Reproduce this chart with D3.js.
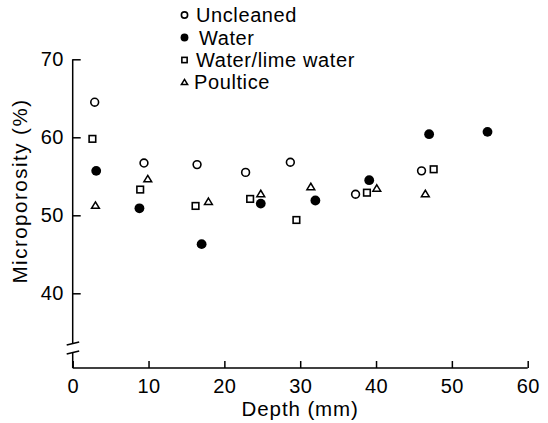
<!DOCTYPE html>
<html>
<head>
<meta charset="utf-8">
<script src="https://cdn.jsdelivr.net/npm/d3@7"></script>
<style>
  html, body { margin: 0; padding: 0; background: #fff; }
  svg { display: block; }
  text { font-family: "Liberation Sans", Arial, Helvetica, sans-serif; fill: #000; }
</style>
</head>
<body>
<svg id="chart" width="548" height="423"></svg>
<script>
// Microporosity against depth for four cleaning treatments
const xTicks = [0, 10, 20, 30, 40, 50, 60];
const yTicks = [40, 50, 60, 70];

const uncleanedDepth = [2.9, 9.4, 16.4, 22.8, 28.7, 37.3, 46.0];
const uncleanedValue = [64.5, 56.7, 56.5, 55.5, 56.8, 52.7, 55.7];

const waterDepth = [3.1, 8.8, 17.0, 24.8, 32.0, 39.1, 47.0, 54.7];
const waterValue = [55.7, 50.9, 46.3, 51.5, 51.9, 54.5, 60.4, 60.7];

const limeDepth = [2.6, 8.9, 16.2, 23.4, 29.5, 38.8, 47.6];
const limeValue = [59.8, 53.3, 51.2, 52.1, 49.4, 52.9, 55.9];

const poulticeDepth = [3.0, 9.9, 17.9, 24.8, 31.4, 40.1, 46.5];
const poulticeValue = [51.3, 54.7, 51.8, 52.8, 53.7, 53.5, 52.8];

const seriesNames = ["Uncleaned", "Water", "Water/lime water", "Poultice"];
const seriesShapes = ["openCircle", "filledCircle", "openSquare", "openTriangle"];

const series = [
  { name: seriesNames[0], shape: seriesShapes[0], depth: uncleanedDepth, value: uncleanedValue },
  { name: seriesNames[1], shape: seriesShapes[1], depth: waterDepth, value: waterValue },
  { name: seriesNames[2], shape: seriesShapes[2], depth: limeDepth, value: limeValue },
  { name: seriesNames[3], shape: seriesShapes[3], depth: poulticeDepth, value: poulticeValue }
];

const svg = d3.select("#chart");

const x = d3.scaleLinear().domain([0, 60]).range([72.7, 527.7]);
const y = d3.scaleLinear().domain([40, 70]).range([293.3, 59.3]);
const xAxisY = 368;
const breakTop = 343.5, breakBottom = 352.5;
const axisStroke = 1.5;

// marker drawing
function drawMarker(g, shape, cx, cy, scale) {
  const s = scale || 1;
  if (shape === "openCircle") {
    g.append("circle").attr("cx", cx).attr("cy", cy).attr("r", 3.9 * s)
      .attr("fill", "#fff").attr("stroke", "#000").attr("stroke-width", 1.6);
  } else if (shape === "filledCircle") {
    g.append("circle").attr("cx", cx).attr("cy", cy).attr("r", 4.9 * s)
      .attr("fill", "#000");
  } else if (shape === "openSquare") {
    const h = 3.3 * s;
    g.append("rect").attr("x", cx - h).attr("y", cy - h)
      .attr("width", 2 * h).attr("height", 2 * h)
      .attr("fill", "#fff").attr("stroke", "#000").attr("stroke-width", 1.6);
  } else if (shape === "openTriangle") {
    const w = 3.9 * s, hh = 3.2 * s;
    g.append("path")
      .attr("d", `M${cx},${cy - hh}L${cx + w},${cy + hh}L${cx - w},${cy + hh}Z`)
      .attr("fill", "#fff").attr("stroke", "#000").attr("stroke-width", 1.5)
      .attr("stroke-linejoin", "miter");
  }
}

// axes
const yAxis = d3.axisLeft(y).tickValues(yTicks).tickSizeInner(-8).tickSizeOuter(0).tickPadding(9);
const gy = svg.append("g").attr("transform", `translate(${x(0)},0)`).call(yAxis);
gy.select(".domain").remove();
gy.selectAll(".tick line").attr("stroke", "#000").attr("stroke-width", axisStroke);
gy.selectAll(".tick text").attr("font-size", 20).style("letter-spacing", "0.4px")
  .attr("font-family", null);

const xAxis = d3.axisBottom(x).tickValues(xTicks).tickSizeInner(-7).tickSizeOuter(0).tickPadding(11);
const gx = svg.append("g").attr("transform", `translate(0,${xAxisY})`).call(xAxis);
gx.select(".domain").remove();
gx.selectAll(".tick line").attr("stroke", "#000").attr("stroke-width", axisStroke);
gx.selectAll(".tick text").attr("font-size", 20).style("letter-spacing", "0.4px")
  .attr("font-family", null);

// axis lines, with a break on the y axis
const lines = svg.append("g").attr("stroke", "#000").attr("stroke-width", axisStroke).attr("fill", "none");
lines.append("line").attr("x1", x(0)).attr("x2", x(60)).attr("y1", xAxisY).attr("y2", xAxisY);
lines.append("line").attr("x1", x(0)).attr("x2", x(0)).attr("y1", y(70)).attr("y2", breakTop);
lines.append("line").attr("x1", x(0)).attr("x2", x(0)).attr("y1", breakBottom).attr("y2", xAxisY);
lines.append("line").attr("x1", x(0) - 6).attr("x2", x(0) + 6.5).attr("y1", breakTop + 1.6).attr("y2", breakTop - 1.6);
lines.append("line").attr("x1", x(0) - 6).attr("x2", x(0) + 6.5).attr("y1", breakBottom + 1.6).attr("y2", breakBottom - 1.6);

// axis titles
svg.append("text")
  .attr("x", (x(0) + x(60)) / 2).attr("y", 416)
  .attr("text-anchor", "middle").attr("font-size", 20.5)
  .style("letter-spacing", "0.9px")
  .text("Depth (mm)");

svg.append("text")
  .attr("transform", `translate(27,191) rotate(-90)`)
  .attr("text-anchor", "middle").attr("font-size", 20.5)
  .style("letter-spacing", "1.5px")
  .text("Microporosity (%)");

// data points
const pts = svg.append("g");
series.forEach(s => {
  s.depth.forEach((d, i) => drawMarker(pts, s.shape, x(d), y(s.value[i]), 1));
});

// legend
const legend = svg.append("g");
const legendBaselines = [22, 44.5, 67, 89];
const legendTextX = [196, 199, 196, 194];
series.forEach((s, i) => {
  drawMarker(legend, s.shape, 184.5, legendBaselines[i] - 7, 0.8);
  legend.append("text")
    .attr("x", legendTextX[i]).attr("y", legendBaselines[i])
    .attr("font-size", 20).style("letter-spacing", "0.6px")
    .text(s.name);
});
</script>
</body>
</html>
